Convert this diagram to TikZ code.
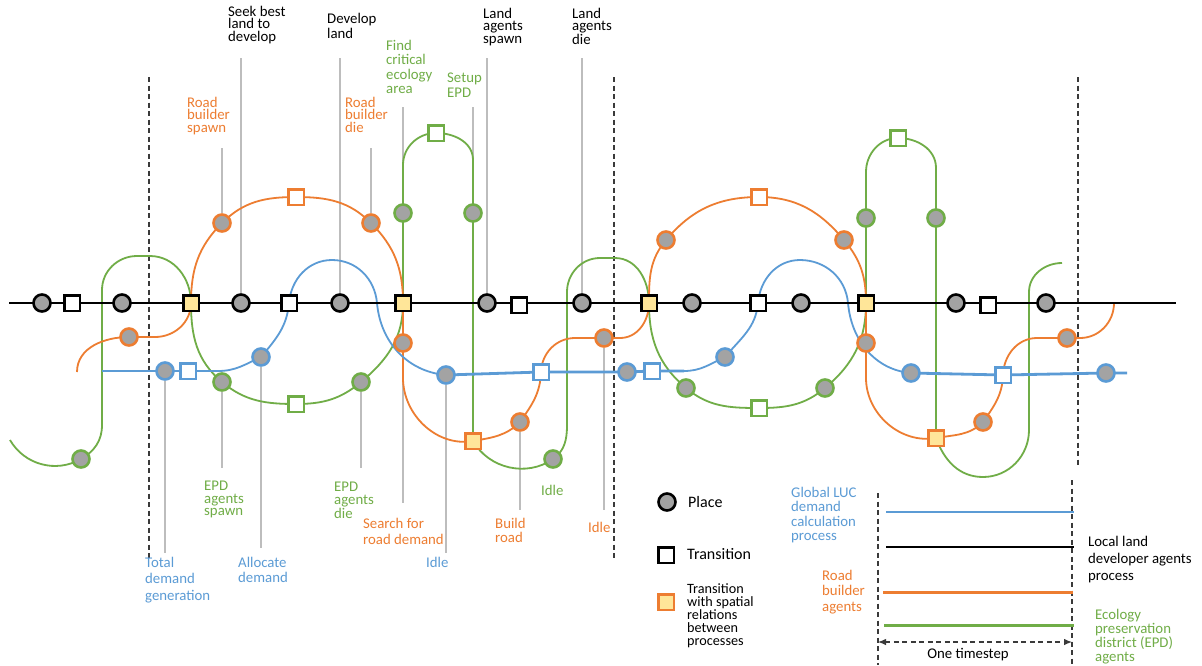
\documentclass[tikz,border=0pt]{standalone}
\usepackage{fontspec}
\setmainfont{Carlito}
\usetikzlibrary{arrows.meta,backgrounds}
\definecolor{cOrange}{HTML}{ED7D31}
\definecolor{cGreen}{HTML}{70AD47}
\definecolor{cBlue}{HTML}{5B9BD5}
\definecolor{cYellow}{HTML}{FFE699}
\definecolor{cPlace}{HTML}{A3A3A3}
\definecolor{cLeader}{HTML}{BDBDBD}
\definecolor{cDash}{HTML}{3A3A3A}
\begin{document}
\begin{tikzpicture}[x=1pt,y=1pt,
  pnode/.style={circle,draw=#1,fill=cPlace,line width=2.6pt,minimum size=17pt,inner sep=0pt},
  pnode/.default=black,
  tnode/.style={rectangle,draw=#1,fill=white,line width=2.5pt,minimum size=15.5pt,inner sep=0pt},
  tnode/.default=black,
  ynode/.style={tnode=#1,fill=cYellow},
  ynode/.default=black,
  kline/.style={black,line width=2pt},
  othin/.style={cOrange,line width=1.8pt},
  othick/.style={cOrange,line width=2.8pt},
  gthin/.style={cGreen,line width=1.8pt},
  gthick/.style={cGreen,line width=2.8pt},
  bthin/.style={cBlue,line width=1.8pt},
  bthick/.style={cBlue,line width=2.8pt},
  leader/.style={cLeader,line width=1.2pt},
  dashline/.style={cDash,line width=1.1pt,dash pattern=on 5pt off 3.5pt},
  lbl/.style={anchor=north west,inner sep=0pt,align=left,font=\fontsize{14.8}{#1}\selectfont},
  lbl/.default=13]
\useasboundingbox (0,0) rectangle (1202,-665);

% ---------- land developer process (black line) ----------
\node[pnode] (k1) at (42,-303) {};
\node[tnode] (k2) at (72,-303) {};
\node[pnode] (k3) at (122,-303) {};
\node[ynode] (Y1) at (191,-303) {};
\node[pnode] (k4) at (241,-303) {};
\node[tnode] (k5) at (289,-303) {};
\node[pnode] (k6) at (340,-303) {};
\node[ynode] (Y2) at (403,-303) {};
\node[pnode] (k7) at (487,-303) {};
\node[tnode] (k8) at (519,-305) {};
\node[pnode] (k9) at (582,-303) {};
\node[ynode] (Y3) at (649,-303) {};
\node[pnode] (k10) at (692,-303) {};
\node[tnode] (k11) at (758,-303) {};
\node[pnode] (k12) at (801,-303) {};
\node[ynode] (Y4) at (866,-303) {};
\node[pnode] (k13) at (956,-303) {};
\node[tnode] (k14) at (988,-305) {};
\node[pnode] (k15) at (1046,-303) {};
\coordinate (kstart) at (9,-303);
\coordinate (kend) at (1176,-303);

% ---------- road builder agents (orange) ----------
\node[pnode=cOrange] (o1) at (129,-337) {};
\node[pnode=cOrange] (o2) at (222,-223) {};
\node[tnode=cOrange] (ot1) at (296,-197) {};
\node[pnode=cOrange] (o3) at (371,-223) {};
\node[pnode=cOrange] (o4) at (403,-343) {};
\node[ynode=cOrange] (OY1) at (473,-441) {};
\node[pnode=cOrange] (o5) at (520,-422) {};
\node[pnode=cOrange] (o6) at (604,-338) {};
\node[pnode=cOrange] (o7) at (666,-240) {};
\node[tnode=cOrange] (ot2) at (759,-197) {};
\node[pnode=cOrange] (o8) at (844,-240) {};
\node[pnode=cOrange] (o9) at (866,-343) {};
\node[ynode=cOrange] (OY2) at (936,-438) {};
\node[pnode=cOrange] (o10) at (983,-422) {};
\node[pnode=cOrange] (o11) at (1067,-338) {};

% ---------- EPD agents (green) ----------
\node[pnode=cGreen] (g1) at (81,-459) {};
\node[pnode=cGreen] (g2) at (222,-382) {};
\node[tnode=cGreen] (gt1) at (296,-404) {};
\node[pnode=cGreen] (g3) at (361,-382) {};
\node[pnode=cGreen] (g4) at (403,-213) {};
\node[tnode=cGreen] (gt2) at (436,-133) {};
\node[pnode=cGreen] (g5) at (473,-213) {};
\node[pnode=cGreen] (g6) at (553,-459) {};
\node[pnode=cGreen] (g7) at (686,-388) {};
\node[tnode=cGreen] (gt3) at (759,-408) {};
\node[pnode=cGreen] (g8) at (825,-388) {};
\node[pnode=cGreen] (g9) at (866,-218) {};
\node[tnode=cGreen] (gt4) at (898,-138) {};
\node[pnode=cGreen] (g10) at (936,-218) {};

% ---------- global demand process (blue) ----------
\node[pnode=cBlue] (b1) at (165,-371) {};
\node[tnode=cBlue] (bt1) at (188,-371) {};
\node[pnode=cBlue] (b2) at (261,-357) {};
\node[pnode=cBlue] (b3) at (446,-375) {};
\node[tnode=cBlue] (bt2) at (541,-372) {};
\node[pnode=cBlue] (b4) at (627,-372) {};
\node[tnode=cBlue] (bt3) at (652,-371) {};
\node[pnode=cBlue] (b5) at (725,-357) {};
\node[pnode=cBlue] (b6) at (911,-373) {};
\node[tnode=cBlue] (bt4) at (1003,-375) {};
\node[pnode=cBlue] (b7) at (1106,-373) {};

% ---------- labels ----------
\node[lbl=12.5] (tSeek) at (228,-6) {Seek best\\land to\\develop};
\node[lbl=15] (tDev) at (327,-13) {Develop\\land};
\node[lbl=12.5] (tLspawn) at (483,-8) {Land\\agents\\spawn};
\node[lbl=12.5] (tLdie) at (572,-8) {Land\\agents\\die};
\node[lbl=14.5,text=cGreen] (tFind) at (386,-40) {Find\\critical\\ecology\\area};
\node[lbl=15,text=cGreen] (tSetup) at (447,-73) {Setup\\EPD};
\node[lbl=12.5,text=cOrange] (tRBs) at (187,-97) {Road\\builder\\spawn};
\node[lbl=12.5,text=cOrange] (tRBd) at (345,-97) {Road\\builder\\die};
\node[lbl=12.5,text=cGreen] (tEPDs) at (204,-481) {EPD\\agents\\spawn};
\node[lbl=12.5,text=cGreen] (tEPDd) at (334,-482) {EPD\\agents\\die};
\node[lbl=16,text=cOrange] (tSearch) at (363,-518) {Search for\\road demand};
\node[lbl=14,text=cOrange] (tBuild) at (495,-518) {Build\\road};
\node[lbl,text=cOrange] (tIdleO) at (588,-522) {Idle};
\node[lbl,text=cGreen] (tIdleG) at (541,-485) {Idle};
\node[lbl,text=cBlue] (tIdleB) at (426,-557) {Idle};
\node[lbl=16.5,text=cBlue] (tTotal) at (145,-557) {Total\\demand\\generation};
\node[lbl=14.7,text=cBlue] (tAlloc) at (238,-557) {Allocate\\demand};

% ---------- legend ----------
\node[pnode] (lp) at (667,-502) {};
\node[tnode] (lt) at (666,-555) {};
\node[ynode=cOrange] (ly) at (666,-602) {};
\node[anchor=west,inner sep=0pt,font=\fontsize{16}{18}\selectfont] (tPlace) at (688,-502) {Place};
\node[anchor=west,inner sep=0pt,font=\fontsize{16}{18}\selectfont] (tTrans) at (687,-554) {Transition};
\node[anchor=north west,inner sep=0pt,align=left,font=\fontsize{14.2}{13.2}\selectfont] (tSpatial) at (687,-583) {Transition\\with spatial\\relations\\between\\processes};
\node[lbl=14.5,text=cBlue] (tGlobal) at (791,-487) {Global LUC\\demand\\calculation\\process};
\node[lbl=17] (tLocal) at (1088,-536) {Local land\\developer agents\\process};
\node[lbl=15.5,text=cOrange] (tRoad) at (822,-570) {Road\\builder\\agents};
\node[lbl=14,text=cGreen] (tEco) at (1095,-609) {Ecology\\preservation\\district (EPD)\\agents};
\node[inner sep=0pt,font=\fontsize{14.8}{16}\selectfont] (tStep) at (968,-655) {One timestep};

\coordinate (lb1) at (886,-512); \coordinate (lb2) at (1074,-512);
\coordinate (lk1) at (886,-547); \coordinate (lk2) at (1074,-547);
\coordinate (lo1) at (883,-592); \coordinate (lo2) at (1073,-592);
\coordinate (lg1) at (884,-625); \coordinate (lg2) at (1074,-625);
\coordinate (sA) at (878,-642); \coordinate (sB) at (1072,-642);

\begin{scope}[on background layer]
  \fill[white] (0,0) rectangle (1202,-665);

  % leader lines to the labelled places
  \draw[leader] (241,-58) -- (k4);
  \draw[leader] (340,-58) -- (k6);
  \draw[leader] (222,-148) -- (o2);
  \draw[leader] (371,-148) -- (o3);
  \draw[leader] (403,-107) -- (g4);
  \draw[leader] (473,-107) -- (473,-162);
  \draw[leader] (487,-58) -- (k7);
  \draw[leader] (582,-58) -- (k9);
  \draw[leader] (b1) -- (b1 |- 0,-553);
  \draw[leader] (g2) -- (g2 |- 0,-468);
  \draw[leader] (b2) -- (b2 |- 0,-548);
  \draw[leader] (g3) -- (g3 |- 0,-468);
  \draw[leader] (o4) -- (o4 |- 0,-503);
  \draw[leader] (b3) -- (b3 |- 0,-553);
  \draw[leader] (o5) -- (o5 |- 0,-510);
  \draw[leader] (o6) -- (o6 |- 0,-510);

  % timestep boundaries
  \draw[dashline] (149,-77) -- (149,-560);
  \draw[dashline] (614,-77) -- (614,-560);
  \draw[dashline] (1078,-77) -- (1078,-465);
  \draw[dashline] (878,-493) -- (878,-665);
  \draw[dashline] (1072,-480) -- (1072,-665);
  \draw[dashline,{Latex[length=8pt,width=6.5pt]}-{Latex[length=8pt,width=6.5pt]}] (sA) -- (sB);

  % green: EPD agents
  \draw[gthin] (10,-440) to[out=-60,in=210] (g1.center) to[out=30,in=-90] (102,-425);
  \draw[gthick] (102,-425) -- (102,-290);
  \draw[gthin] (102,-290) to[out=90,in=180] (137,-256) -- (150,-256) to[out=0,in=90] (Y1.center);
  \draw[gthin] (Y1.center) to[out=-90,in=140] (g2.center) to[out=-40,in=180] (gt1.center)
     to[out=0,in=220] (g3.center) to[out=40,in=-90] (Y2.center);
  \draw[gthick] (Y2.center) -- (403,-165);
  \draw[gthin] (403,-165) to[out=90,in=180] (gt2.center) to[out=0,in=90] (473,-160);
  \draw[gthick] (473,-160) -- (OY1.center);
  \draw[gthin] (OY1.center) to[out=-60,in=215] (g6.center) to[out=35,in=-90] (567,-425);
  \draw[gthick] (567,-425) -- (567,-292);
  \draw[gthin] (567,-292) to[out=90,in=180] (600,-258) -- (615,-258) to[out=0,in=90] (Y3.center);
  \draw[gthin] (Y3.center) to[out=-90,in=140] (g7.center) to[out=-40,in=180] (gt3.center)
     to[out=0,in=220] (g8.center) to[out=40,in=-90] (Y4.center);
  \draw[gthick] (Y4.center) -- (866,-172);
  \draw[gthin] (866,-172) to[out=90,in=180] (gt4.center) to[out=0,in=90] (936,-168);
  \draw[gthick] (936,-168) -- (OY2.center);
  \draw[gthin] (OY2.center) to[out=-70,in=180] (983,-477) to[out=0,in=-90] (1029,-430);
  \draw[gthick] (1029,-430) -- (1029,-292);
  \draw[gthin] (1029,-292) to[out=90,in=180] (1062,-263);

  % orange: road builder agents
  \draw[othin] (77,-372) to[out=90,in=180] (o1.center);
  \draw[othick] (o1.center) -- (155,-337);
  \draw[othin] (155,-337) to[out=0,in=-90] (Y1.center) to[out=90,in=225] (o2.center)
     to[out=45,in=180] (ot1.center) to[out=0,in=135] (o3.center) to[out=-45,in=90] (Y2.center);
  \draw[othick] (Y2.center) -- (403,-378);
  \draw[othin] (403,-378) to[out=-90,in=190] (OY1.center) to[out=10,in=225] (o5.center)
     to[out=55,in=-92] (bt2.center) to[out=88,in=180] (575,-338);
  \draw[othick] (575,-338) -- (620,-338);
  \draw[othin] (620,-338) to[out=0,in=-90] (Y3.center) to[out=90,in=230] (o7.center)
     to[out=50,in=180] (ot2.center) to[out=0,in=130] (o8.center) to[out=-50,in=90] (Y4.center);
  \draw[othick] (Y4.center) -- (866,-378);
  \draw[othin] (866,-378) to[out=-90,in=190] (OY2.center) to[out=10,in=225] (o10.center)
     to[out=55,in=-92] (bt4.center) to[out=88,in=180] (1037,-338);
  \draw[othick] (1037,-338) -- (1080,-338);
  \draw[othin] (1080,-338) to[out=0,in=-90] (1114,-303);

  % blue: global demand calculation
  \draw[bthick] (102,-371) -- (bt1.center) -- (218,-371);
  \draw[bthin] (218,-371) to[out=0,in=205] (b2.center) to[out=50,in=-95] (k5.center)
     to[out=85,in=180] (332,-260) to[out=0,in=95] (377,-303) to[out=-85,in=175] (b3.center);
  \draw[bthick] (b3.center) -- (bt2.center) -- (b4.center) -- (bt3.center) -- (684,-371);
  \draw[bthin] (684,-371) to[out=0,in=205] (b5.center) to[out=50,in=-95] (k11.center)
     to[out=85,in=180] (800,-260) to[out=0,in=95] (848,-303) to[out=-85,in=175] (b6.center);
  \draw[bthick] (b6.center) -- (bt4.center) -- (b7.center) -- (1127,-373);

  % black: land developer agents
  \draw[kline] (kstart) -- (kend);

  % legend lines
  \draw[cBlue,line width=1.5pt] (lb1) -- (lb2);
  \draw[black,line width=1.5pt] (lk1) -- (lk2);
  \draw[cOrange,line width=3pt] (lo1) -- (lo2);
  \draw[cGreen,line width=3pt] (lg1) -- (lg2);
\end{scope}
\end{tikzpicture}
\end{document}
